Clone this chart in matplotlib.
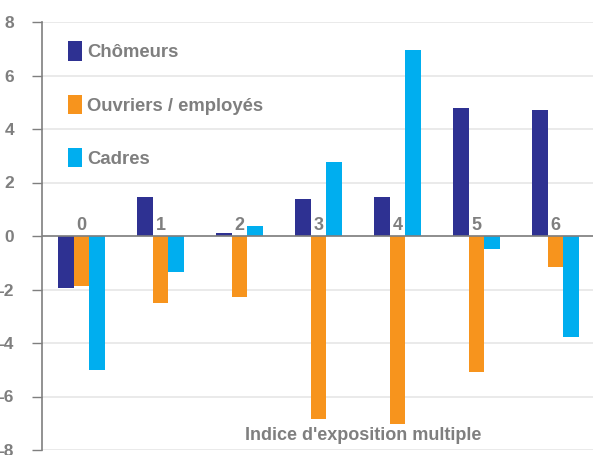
import matplotlib
matplotlib.use("Agg")
import matplotlib.pyplot as plt
from matplotlib.patches import Patch
import numpy as np

plt.rcParams['font.family'] = ['Liberation Sans', 'DejaVu Sans']

categories = ["0", "1", "2", "3", "4", "5", "6"]
series_names = ["Chômeurs", "Ouvriers / employés", "Cadres"]
chomeurs = [-1.93, 1.47, 0.12, 1.38, 1.46, 4.80, 4.70]
ouvriers = [-1.86, -2.52, -2.29, -6.84, -7.04, -5.10, -1.17]
cadres = [-5.02, -1.33, 0.37, 2.77, 6.95, -0.49, -3.78]
yticks = [-8, -6, -4, -2, 0, 2, 4, 6, 8]
xlabel = "Indice d'exposition multiple"

colors = ["#2E3192", "#F7941D", "#00AEEF"]
gray = "#7f7f7f"

W, H = 593, 455
fig = plt.figure(figsize=(W / 100, H / 100), dpi=100)
ax = fig.add_axes([42 / W, 5 / H, 553 / W, 428 / H])

x = np.arange(len(categories))
bw = 0.195
for i, (vals, c) in enumerate(zip([chomeurs, ouvriers, cadres], colors)):
    ax.bar(x + (i - 1) * bw, vals, bw, color=c, zorder=3)

ax.set_xlim(-0.5, 6.5)
ax.set_ylim(-8, 8)
ax.set_yticks(yticks)
ax.set_yticklabels([str(t) for t in yticks], fontsize=12.5, fontweight='bold', color=gray)
ax.tick_params(axis='y', length=7, width=1, color=gray, pad=13)
ax.set_xticks([])
ax.grid(axis='y', color='#e6e6e6', linewidth=1.2, zorder=0)
ax.axhline(0, color=gray, linewidth=1.2, zorder=4)
for s in ['top', 'right', 'bottom']:
    ax.spines[s].set_visible(False)
ax.spines['left'].set_color(gray)
ax.spines['left'].set_linewidth(1.2)

for xi, lab in zip(x, categories):
    ax.text(xi, 0.08, lab, ha='center', va='bottom', fontsize=13,
            fontweight='bold', color=gray, zorder=5)

fig.text(363 / W, 1 - 436 / H, xlabel, ha='center', va='center',
         fontsize=13, fontweight='bold', color=gray)

handles = [Patch(facecolor=c, edgecolor='none') for c in colors]
leg = ax.legend(handles, series_names, loc='upper left',
                bbox_to_anchor=(19 / 553, 1 - 12 / 428), frameon=False,
                handlelength=0.72, handleheight=1.25, handletextpad=0.3,
                labelspacing=1.8, borderaxespad=0,
                prop={'size': 13.3, 'weight': 'bold'})
for t in leg.get_texts():
    t.set_color(gray)

fig.savefig("out.png", dpi=100)
